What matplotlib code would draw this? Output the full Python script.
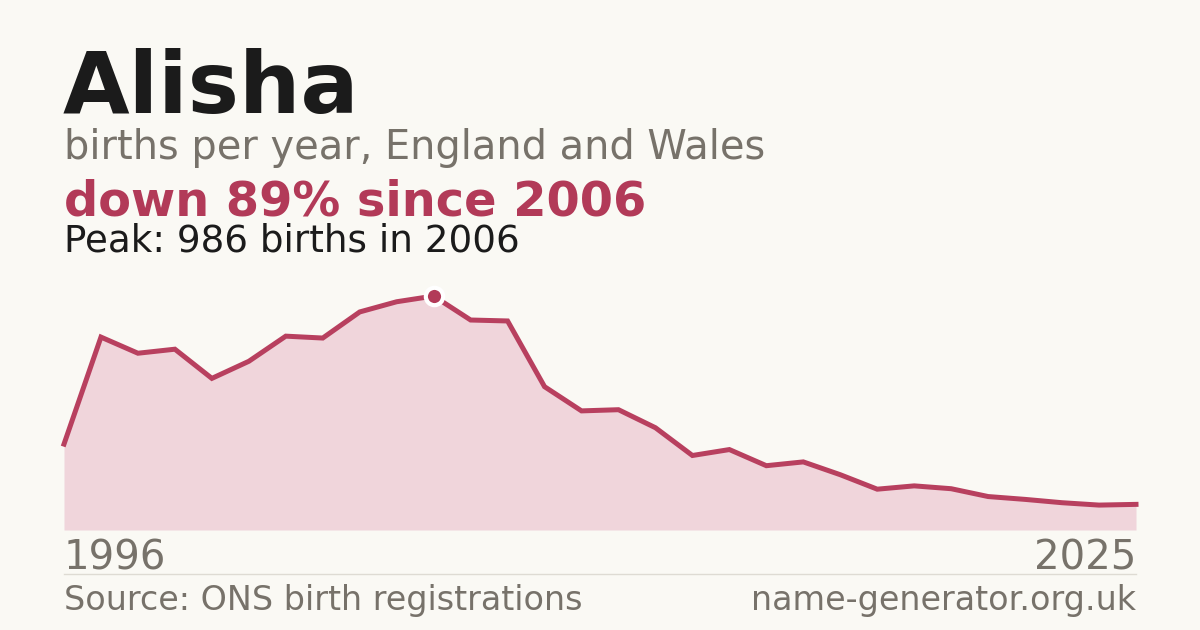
import matplotlib
matplotlib.use("Agg")
import matplotlib.pyplot as plt

# births per year for "Alisha"
years = list(range(1996, 2026))
births = [362, 813, 745, 762, 639, 711, 817, 809, 919, 962,
          986, 885, 881, 604, 502, 507, 431, 314, 339, 271,
          287, 233, 172, 186, 174, 141, 129, 115, 105, 108]

name = "Alisha"
subtitle = "births per year, England and Wales"
headline = "down 89% since 2006"
peak_text = "Peak: 986 births in 2006"
source = "Source: ONS birth registrations"
site = "name-generator.org.uk"

bg = "#faf9f4"
red = "#b8405f"
fill = "#f0d5db"
grey = "#77726a"
dark = "#1b1b1b"

W, H = 1200, 630
fig = plt.figure(figsize=(W / 100, H / 100), dpi=100, facecolor=bg)
plt.rcParams["font.family"] = ["DejaVu Sans"]

# plot area: x 64..1136 px, baseline at y=530 px, top of ylim at y=269 px
ymax = 1100
ax = fig.add_axes([64 / W, (H - 530) / H, (1136 - 64) / W, (530 - 269) / H])
ax.set_facecolor(bg)
ax.fill_between(years, births, 0, color=fill, linewidth=0)
ax.plot(years, births, color=red, linewidth=3.6, solid_joinstyle="miter", clip_on=False)
pk = births.index(max(births))
ax.plot(years[pk], births[pk], "o", markersize=12.5, color="#b23a58",
        markeredgecolor="white", markeredgewidth=3, clip_on=False, zorder=5)
ax.set_xlim(years[0], years[-1])
ax.set_ylim(0, ymax)
ax.axis("off")


def px(x, y):
    return x / W, 1 - y / H


fig.text(*px(63, 113), name, fontsize=62, fontweight="bold", color=dark, va="baseline")
fig.text(*px(64, 159), subtitle, fontsize=28.7, color=grey, va="baseline")
fig.text(*px(64, 215), headline, fontsize=34.5, fontweight="bold", color="#b23a58", va="baseline")
fig.text(*px(64, 252), peak_text, fontsize=26.8, color=dark, va="baseline")

fig.text(*px(64, 570), str(years[0]), fontsize=29, color=grey, va="baseline")
fig.text(*px(1136, 570), str(years[-1]), fontsize=29, color=grey, va="baseline", ha="right")

fig.add_artist(plt.Line2D([64 / W, 1136 / W], [1 - 574 / H] * 2, color="#dedbd3", linewidth=1))

fig.text(*px(64, 610), source, fontsize=24, color=grey, va="baseline")
fig.text(*px(1136, 610), site, fontsize=24, color=grey, va="baseline", ha="right")

fig.savefig("out.png", dpi=100, facecolor=bg)
